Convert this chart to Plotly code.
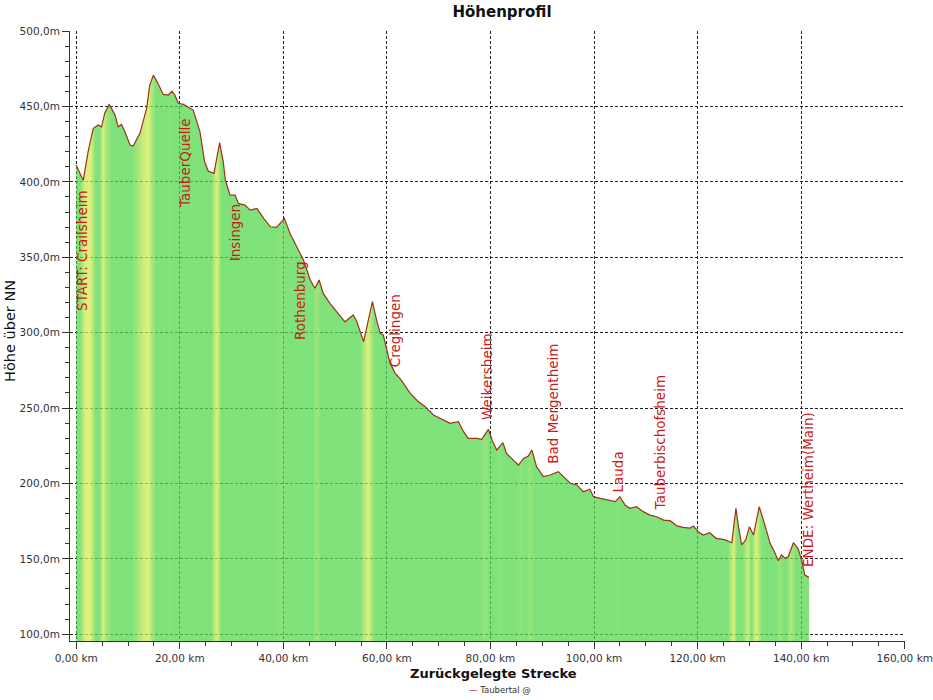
import plotly.graph_objects as go
import numpy as np

# ---- data ----
dist_km = [0.0, 1.35, 2.3, 3.3, 4.25, 4.9, 5.5, 6.37, 7.5, 8.1, 8.75, 9.4, 10.4, 11.0, 12.3, 13.6,
           14.2, 14.9, 15.8, 16.8, 17.8, 18.5, 19.05, 19.7, 20.7, 21.6, 22.6, 23.9, 24.8, 25.5,
           26.6, 27.7, 28.4, 28.8, 29.7, 30.7, 31.3, 32.6, 33.6, 34.9, 36.2, 37.5, 38.7, 40.2,
           41.3, 42.9, 43.9, 45.2, 46.1, 46.9, 47.7, 49.0, 50.3, 51.9, 53.5, 54.2, 55.5, 57.2,
           58.0, 58.7, 59.3, 60.6, 61.6, 62.5, 63.2, 64.5, 66.1, 67.4, 69.0, 70.3, 72.2, 73.8,
           74.8, 75.7, 77.4, 78.3, 79.6, 80.3, 81.2, 82.4, 83.1, 84.4, 85.4, 86.4, 87.3, 88.0,
           88.9, 90.2, 91.5, 93.1, 94.1, 95.4, 96.7, 97.9, 99.2, 99.9, 101.2, 102.8, 104.1,
           105.0, 106.0, 106.9, 108.2, 109.5, 110.8, 112.1, 113.4, 114.7, 116.0, 117.2, 118.5,
           119.2, 120.1, 121.1, 122.3, 123.6, 125.2, 126.6, 127.4, 127.9, 128.5, 129.3, 130.0,
           130.8, 131.9, 133.0, 134.0, 134.8, 135.6, 136.2, 136.9, 137.5, 138.5, 139.4, 140.1,
           140.7, 141.5]
elev_m = [411, 401, 420, 435.5, 437.7, 436.5, 445.4, 451.4, 444.3, 436.5, 438.1, 433.2, 424.4,
          423.7, 432.2, 448.7, 464.2, 470.8, 465.3, 458.0, 457.6, 460.2, 457.6, 452.1, 451.4,
          449.8, 447.6, 433.2, 413.3, 407.2, 405.6, 426.0, 413.3, 401.2, 391.2, 391.2, 385.7,
          384.6, 381.3, 382.4, 375.8, 370.2, 369.8, 375.8, 365.8, 354.8, 348.1, 334.9, 329.4,
          334.9, 326.0, 319.4, 313.9, 307.2, 311.7, 307.2, 294.0, 320.5, 308.4, 299.5, 298.4,
          280.0, 273.0, 269.7, 266.4, 259.7, 254.2, 250.9, 245.4, 243.2, 239.9, 240.9, 234.3,
          229.9, 229.9, 229.2, 235.9, 228.8, 222.1, 227.0, 219.9, 215.5, 212.2, 216.6, 218.2,
          222.1, 211.1, 204.5, 205.6, 207.8, 204.5, 200.1, 199.0, 194.5, 196.1, 191.2, 190.1,
          189.0, 187.9, 191.2, 185.7, 183.5, 184.6, 181.3, 179.0, 177.9, 175.7, 175.3, 171.8,
          170.9, 170.3, 171.8, 168.0, 165.8, 167.3, 163.6, 162.7, 160.7, 183.5, 171.3, 159.2,
          162.5, 171.3, 165.8, 184.6, 172.4, 160.3, 154.8, 148.8, 152.5, 150.4, 151.4, 160.7,
          156.9, 149.2, 139.2, 137.7]

place_names = ["START: Crailsheim", "TauberQuelle", "Insingen", "Rothenburg", "Creglingen",
               "Weikersheim", "Bad Mergentheim", "Lauda", "Tauberbischofsheim",
               "ENDE: Wertheim(Main)"]
place_km = [1.1, 21.0, 30.6, 43.2, 61.5, 79.2, 92.0, 104.6, 112.7, 141.3]
place_label_m = [354.8, 412.5, 366.4, 321.6, 301.4, 270.8, 252.6, 207.8, 227.1, 196.3]

x_tick_vals = [0, 20, 40, 60, 80, 100, 120, 140, 160]
x_tick_text = ["0,00 km", "20,00 km", "40,00 km", "60,00 km", "80,00 km", "100,00 km",
               "120,00 km", "140,00 km", "160,00 km"]
y_tick_vals = [100, 150, 200, 250, 300, 350, 400, 450, 500]
y_tick_text = ["100,0m", "150,0m", "200,0m", "250,0m", "300,0m", "350,0m", "400,0m",
               "450,0m", "500,0m"]

# ---- fill gradient from the climb of each segment (green = flat/down, yellow = climbing) ----
d = np.array(dist_km)
e = np.array(elev_m)
alpha = 0.75
green = np.array([128, 226, 122])
yellow = np.array([222, 240, 125])
span = d[-1] - d[0]
scale = []
for i in range(len(d) - 1):
    slope = (e[i + 1] - e[i]) / (d[i + 1] - d[i])
    t = float(np.clip((slope - 3.0) / 12.0, 0, 1))
    vis = green + t * (yellow - green)
    col = (vis - (1 - alpha) * 255) / alpha
    col = np.clip(col, 0, 255)
    c = "rgba(%d,%d,%d,%.2f)" % (col[0], col[1], col[2], alpha)
    pos = ((d[i] + d[i + 1]) / 2 - d[0]) / span
    if i == 0:
        scale.append([0.0, c])
    scale.append([pos, c])
scale.append([1.0, scale[-1][1]])

fig = go.Figure()
fig.add_trace(go.Scatter(
    x=dist_km, y=elev_m, mode="lines", name="Taubertal @",
    line=dict(color="#9a3418", width=1.2),
    fill="tozeroy",
    fillgradient=dict(type="horizontal", colorscale=scale),
    showlegend=False, hoverinfo="skip"))

for name, xk, ym in zip(place_names, place_km, place_label_m):
    fig.add_annotation(x=xk, y=ym, xref="x", yref="y", text=name, textangle=-90,
                       showarrow=False, xanchor="center", yanchor="middle",
                       font=dict(family="DejaVu Sans", size=13.5, color="#cc1a1a"))

grid = dict(showgrid=True, gridcolor="#222222", gridwidth=1, griddash="3px,2px")

fig.update_xaxes(range=[-1.2, 160.05], tickmode="array", tickvals=x_tick_vals,
                 ticktext=x_tick_text, ticks="outside", ticklen=7, tickwidth=1,
                 tickcolor="#333333", showline=True, linecolor="#333333", linewidth=1,
                 zeroline=False, automargin=False,
                 tickfont=dict(family="DejaVu Sans", size=10.5, color="#333333"),
                 minor=dict(dtick=5, ticklen=4, tickcolor="#333333", ticks="outside",
                            showgrid=False),
                 **grid)
fig.update_yaxes(range=[95.5, 500.05], tickmode="array", tickvals=y_tick_vals,
                 ticktext=y_tick_text, ticks="outside", ticklen=7, tickwidth=1,
                 tickcolor="#333333", showline=True, linecolor="#333333", linewidth=1,
                 zeroline=False, automargin=False,
                 tickfont=dict(family="DejaVu Sans", size=10.5, color="#333333"),
                 minor=dict(dtick=10, ticklen=4, tickcolor="#333333", ticks="outside",
                            showgrid=False),
                 **grid)

fig.add_annotation(x=(493.5 - 70) / 835, y=(641 - 673) / 610, xref="paper", yref="paper",
                   text="<b>Zurückgelegte Strecke</b>", showarrow=False,
                   xanchor="center", yanchor="middle",
                   font=dict(family="DejaVu Sans", size=13, color="#111111"))
fig.add_annotation(x=(9.5 - 70) / 835, y=(641 - 331.5) / 610, xref="paper", yref="paper",
                   text="Höhe über NN", textangle=-90, showarrow=False,
                   xanchor="center", yanchor="middle",
                   font=dict(family="DejaVu Sans", size=14.5, color="#111111"))
fig.add_annotation(x=(500 - 70) / 835, y=(641 - 690) / 610, xref="paper", yref="paper",
                   text='<span style="color:#c0301c">—</span> Taubertal @', showarrow=False,
                   xanchor="center", yanchor="middle",
                   font=dict(family="DejaVu Sans", size=8.5, color="#333333"))

fig.update_layout(
    width=933, height=700,
    margin=dict(l=70, r=28, t=31, b=59, autoexpand=False),
    paper_bgcolor="white", plot_bgcolor="white",
    title=dict(text="<b>Höhenprofil</b>", xref="container", yref="container",
               x=502 / 933, y=1 - 12 / 700, xanchor="center", yanchor="middle",
               font=dict(family="DejaVu Sans", size=15, color="#111111")),
    showlegend=False,
)

fig.write_html("out.html")
